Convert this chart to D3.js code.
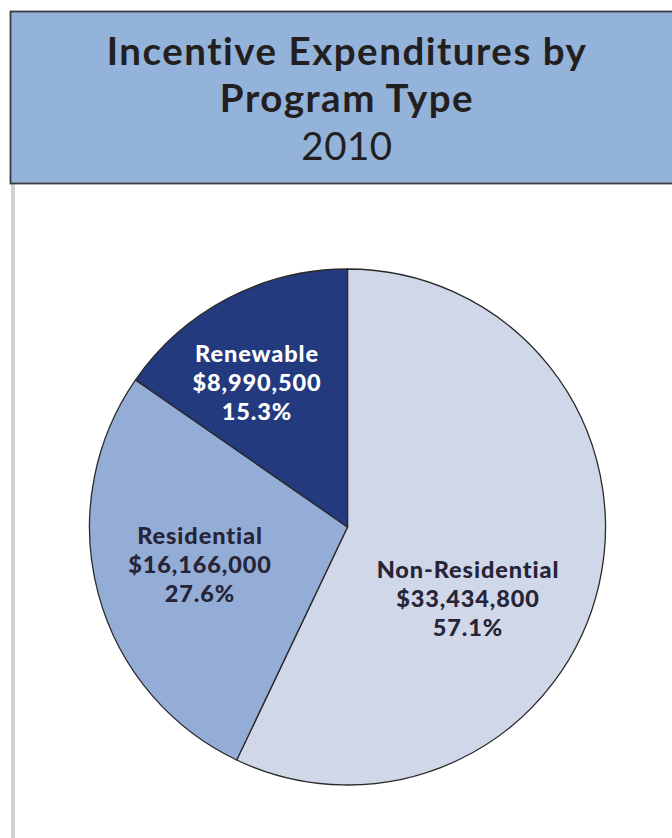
<!DOCTYPE html>
<html><head><meta charset="utf-8">
<script src="https://cdn.jsdelivr.net/npm/d3@7"></script>
<style>body{margin:0;background:#fff}svg{display:block}text{font-variant-ligatures:none}</style>
</head><body>
<script>
const titleLines = ["Incentive Expenditures by", "Program Type", "2010"];
const categories = ["Non-Residential", "Residential", "Renewable"];
const amounts = [33434800, 16166000, 8990500];
const percents = ["57.1%", "27.6%", "15.3%"];
const colors = ["#d0d7e9", "#94add6", "#233a7f"];
const labelColors = ["#262436", "#262436", "#ffffff"];

const W = 672, H = 838;
const svg = d3.select("body").append("svg").attr("width", W).attr("height", H);

// left gray rule
svg.append("rect").attr("x", 11).attr("y", 183).attr("width", 4).attr("height", H - 183).attr("fill", "#d0d0d0");

// header box
svg.append("rect").attr("x", 10.5).attr("y", 11.5).attr("width", W).attr("height", 172)
  .attr("fill", "#93b3da").attr("stroke", "#3a3a3a").attr("stroke-width", 1.8);

const titleY = [65, 112, 160];
svg.selectAll("text.title").data(titleLines).join("text")
  .attr("class", "title")
  .attr("x", 347).attr("y", (d, i) => titleY[i])
  .attr("text-anchor", "middle")
  .attr("font-family", "Lato, 'Open Sans', sans-serif")
  .attr("font-weight", (d, i) => i < 2 ? 700 : 400)
  .attr("font-size", 38.5)
  .attr("letter-spacing", (d, i) => i < 2 ? 1.5 : 0.5)
  .attr("fill", "#231f20")
  .text(d => d);

const cx = 347.5, cy = 527, R = 258;
const pie = d3.pie().sort(null).value(d => d)(amounts);
const arc = d3.arc().innerRadius(0).outerRadius(R);
const g = svg.append("g").attr("transform", `translate(${cx},${cy})`);
g.selectAll("path").data(pie).join("path")
  .attr("d", arc)
  .attr("fill", (d, i) => colors[i])
  .attr("stroke", "#2a2a2a").attr("stroke-width", 1.3);

const labelPos = [[468, 578], [200, 544], [257, 362]];
const lh = 29;
categories.forEach((c, i) => {
  const lines = [c, "$" + d3.format(",")(amounts[i]), percents[i]];
  lines.forEach((l, j) => {
    svg.append("text")
      .attr("x", labelPos[i][0]).attr("y", labelPos[i][1] + j * lh)
      .attr("text-anchor", "middle")
      .attr("font-family", "Lato, 'Open Sans', sans-serif")
      .attr("font-weight", 900)
      .attr("font-size", 23.5)
      .attr("letter-spacing", 0.9)
      .attr("fill", labelColors[i])
      .text(l);
  });
});
</script>
</body></html>
